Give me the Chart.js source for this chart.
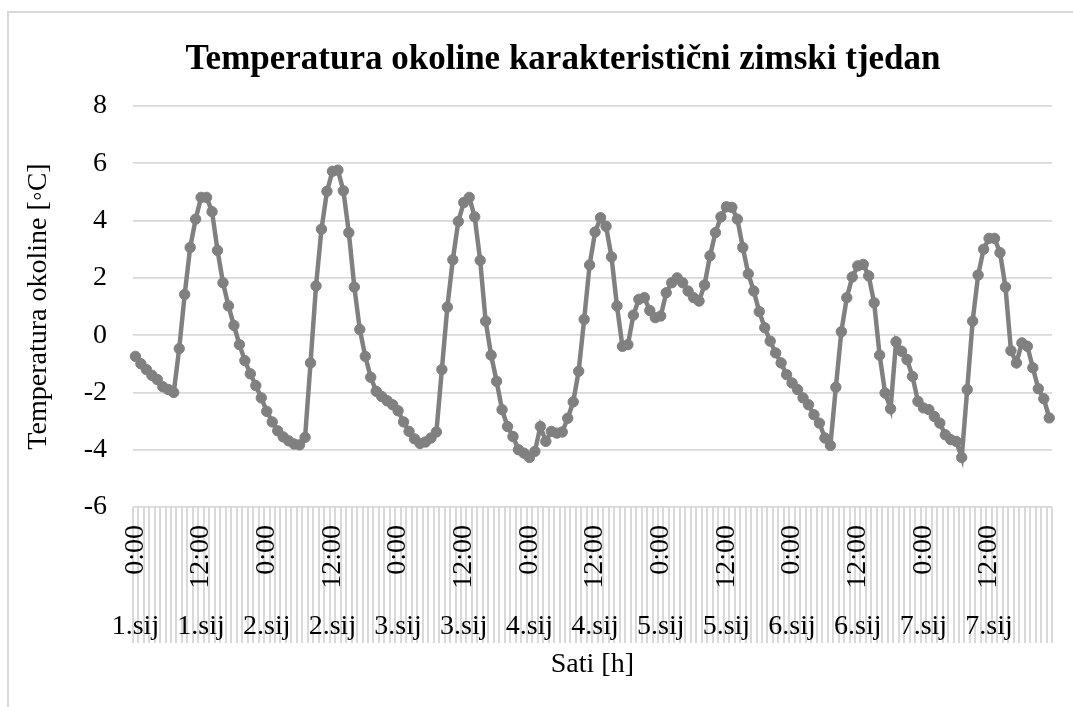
<!DOCTYPE html>
<html>
<head>
<meta charset="utf-8">
<script src="https://cdn.jsdelivr.net/npm/chart.js@4.4.1/dist/chart.umd.min.js"></script>
<style>
html, body { margin:0; padding:0; background:#fff; width:1073px; height:707px; overflow:hidden; }
#frame { position:absolute; left:7px; top:11px; width:1200px; height:800px; border:2px solid #d9d9d9; box-sizing:border-box; }
#c { position:absolute; left:0; top:0; }
</style>
</head>
<body>
<div id="frame"></div>
<canvas id="c" width="1073" height="707"></canvas>
<script>
// ---- data ----
const days = ['1.sij', '2.sij', '3.sij', '4.sij', '5.sij', '6.sij', '7.sij'];
const hours = ['0:00','1:00','2:00','3:00','4:00','5:00','6:00','7:00','8:00','9:00','10:00','11:00',
               '12:00','13:00','14:00','15:00','16:00','17:00','18:00','19:00','20:00','21:00','22:00','23:00'];
const shownHours = ['0:00', '12:00'];
const yTickValues = [-6, -4, -2, 0, 2, 4, 6, 8];

const day1 = [-0.74, -1.0, -1.2, -1.4, -1.55, -1.8, -1.9, -2.0, -0.47, 1.42, 3.06, 4.05,
              4.81, 4.81, 4.31, 2.96, 1.83, 1.02, 0.34, -0.33, -0.89, -1.35, -1.76, -2.19];
const day2 = [-2.66, -3.03, -3.34, -3.55, -3.69, -3.80, -3.83, -3.57, -0.97, 1.72, 3.70, 5.02,
              5.72, 5.76, 5.04, 3.58, 1.68, 0.2, -0.74, -1.47, -1.96, -2.14, -2.29, -2.43];
const day3 = [-2.64, -3.03, -3.36, -3.62, -3.78, -3.73, -3.59, -3.38, -1.2, 0.98, 2.63, 3.97,
              4.63, 4.81, 4.13, 2.61, 0.49, -0.70, -1.61, -2.60, -3.19, -3.54, -4.0, -4.12];
const day4 = [-4.27, -4.06, -3.19, -3.71, -3.36, -3.42, -3.38, -2.9, -2.33, -1.26, 0.55, 2.45,
              3.6, 4.1, 3.8, 2.73, 1.02, -0.39, -0.33, 0.70, 1.25, 1.31, 0.86, 0.61];
const day5 = [0.67, 1.48, 1.83, 2.0, 1.83, 1.54, 1.31, 1.19, 1.75, 2.77, 3.58, 4.13,
              4.48, 4.46, 4.05, 3.06, 2.14, 1.54, 0.82, 0.26, -0.21, -0.62, -0.97, -1.38];
const day6 = [-1.67, -1.90, -2.19, -2.43, -2.78, -3.07, -3.59, -3.85, -1.82, 0.12, 1.31, 2.03,
              2.42, 2.47, 2.07, 1.13, -0.70, -2.02, -2.57, -0.23, -0.56, -0.85, -1.44, -2.31];
const day7 = [-2.54, -2.60, -2.84, -3.07, -3.48, -3.65, -3.71, -4.27, -1.90, 0.49, 2.10, 3.0,
              3.38, 3.38, 2.88, 1.68, -0.54, -0.97, -0.27, -0.39, -1.14, -1.87, -2.22, -2.89];

const temperature = [].concat(day1, day2, day3, day4, day5, day6, day7);
const categories = days.flatMap(d => hours.map(h => d + ' ' + h));

// ---- chart ----
const FONT = 'Liberation Serif, Times New Roman, serif';
const GRID = '#d9d9d9';
Chart.defaults.color = '#000';
Chart.defaults.font.family = FONT;

new Chart(document.getElementById('c'), {
  type: 'line',
  data: {
    labels: categories,
    datasets: [{
      data: temperature,
      xAxisID: 'x',
      yAxisID: 'y',
      borderColor: '#808080',
      backgroundColor: '#808080',
      borderWidth: 4.5,
      pointRadius: 5.2,
      pointBorderWidth: 1,
      pointBackgroundColor: '#808080',
      pointBorderColor: '#808080',
      tension: 0,
      fill: false
    }]
  },
  options: {
    responsive: false,
    animation: false,
    devicePixelRatio: 1,
    events: [],
    layout: { padding: { left: 74, right: 21, top: 10, bottom: 26 } },
    plugins: {
      legend: { display: false },
      tooltip: { enabled: false },
      title: {
        display: true,
        text: 'Temperatura okoline karakteristični zimski tjedan',
        color: '#000',
        font: { family: FONT, size: 35, weight: 'bold' },
        padding: { top: 29, bottom: 25 }
      }
    },
    scales: {
      y: {
        position: 'left',
        min: yTickValues[0],
        max: yTickValues[yTickValues.length - 1],
        afterBuildTicks: (s) => { s.ticks = yTickValues.map(v => ({ value: v })); },
        ticks: { font: { family: FONT, size: 28 }, color: '#000', padding: 25.7 },
        grid: { color: GRID, lineWidth: 1.8, drawTicks: false },
        border: { display: false },
        title: {
          display: true,
          text: 'Temperatura okoline [◦C]',
          color: '#000',
          font: { family: FONT, size: 28 },
          padding: { top: -52, bottom: 0 }
        },
        afterFit: (s) => { s.width = 58.7; s.paddingTop = 0; s.paddingBottom = 0; }
      },
      x: {
        type: 'category',
        position: 'bottom',
        weight: 0,
        offset: true,
        ticks: {
          autoSkip: false,
          minRotation: 90,
          maxRotation: 90,
          padding: -68,
          font: { family: FONT, size: 28 },
          color: '#000',
          callback: (v, i) => shownHours.includes(hours[i % hours.length]) ? hours[i % hours.length] : ''
        },
        grid: { display: true, drawOnChartArea: false, drawTicks: true, tickLength: 86, offset: true, color: GRID, lineWidth: 2 },
        border: { display: false },
        afterFit: (s) => { s.height = 86; s.paddingLeft = 0; s.paddingRight = 0; }
      },
      x2: {
        type: 'category',
        position: 'bottom',
        weight: 1,
        offset: true,
        ticks: {
          autoSkip: false,
          minRotation: 0,
          maxRotation: 0,
          padding: -32.8,
          font: { family: FONT, size: 28 },
          color: '#000',
          callback: (v, i) => shownHours.includes(hours[i % hours.length]) ? days[Math.floor(i / hours.length)] : ''
        },
        grid: { display: true, drawOnChartArea: false, drawTicks: true, tickLength: 50, offset: true, color: GRID, lineWidth: 2 },
        border: { display: false },
        title: {
          display: true,
          text: 'Sati [h]',
          color: '#000',
          font: { family: FONT, size: 28 },
          padding: { top: 0, bottom: 0 }
        },
        afterFit: (s) => { s.height = 88; s.paddingLeft = 0; s.paddingRight = 0; }
      }
    }
  }
});
</script>
</body>
</html>
